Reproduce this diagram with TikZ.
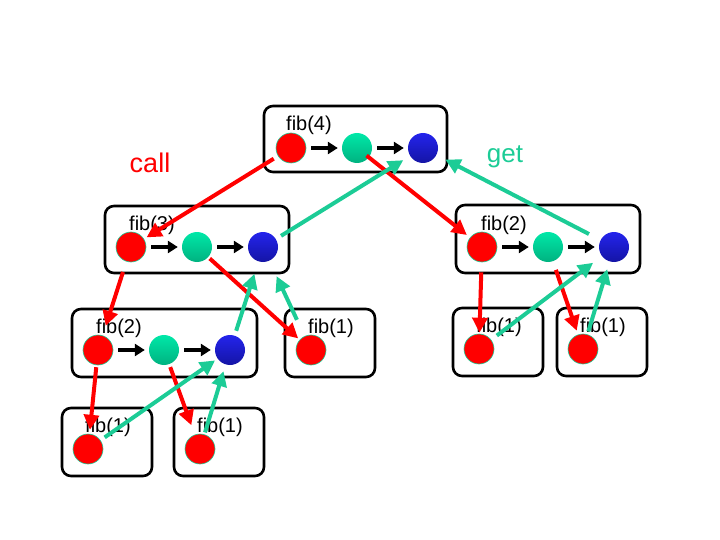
\documentclass[tikz,border=0pt]{standalone}
\usepackage{fontspec}
\setmainfont{Liberation Sans}
\usetikzlibrary{calc,arrows.meta,positioning}
\definecolor{callcol}{RGB}{255,0,0}
\definecolor{getcol}{RGB}{28,204,150}
\tikzset{fibbox/.style={draw=black,line width=2.6pt,rounded corners=9pt}}

\begin{document}
\begin{tikzpicture}[x=1pt,y=-1pt,node distance=66pt,font=\fontsize{20}{22}\selectfont]

\tikzset{redball/.style={shape=circle,minimum size=30pt,inner sep=0pt,fill=callcol,draw=getcol,line width=0.6pt},
greenball/.style={shape=circle,minimum size=30pt,inner sep=0pt,top color={rgb,255:red,0;green,232;blue,168},bottom color={rgb,255:red,0;green,178;blue,128}},
blueball/.style={shape=circle,minimum size=30pt,inner sep=0pt,top color={rgb,255:red,36;green,36;blue,236},bottom color={rgb,255:red,20;green,20;blue,165}},
fiblabel/.style={anchor=base west,inner sep=0pt},
steparrow/.style={line width=3.8pt,-{Triangle[length=10pt,width=12pt]},shorten <=5pt,shorten >=4pt},
callarrow/.style={callcol,line width=4pt,-{Triangle[length=15pt,width=15pt]}},
getarrow/.style={getcol,line width=4pt,-{Triangle[length=15pt,width=15pt]}}}

\useasboundingbox (0,0) rectangle (720,540);

% fib(4)
\node[redball] (r4) at (291,148) {};
\node[greenball,right of=r4] (g4) {};
\node[blueball,right of=g4] (b4) {};
\draw[fibbox] ($(r4)+(-27,-42)$) rectangle ($(b4)+(24,24)$);
\node[fiblabel] (l4) at ($(r4)+(-5,-17)$) {fib(4)};

% fib(3)
\node[redball] (r3) at (131,247) {};
\node[greenball,right of=r3] (g3) {};
\node[blueball,right of=g3] (b3) {};
\draw[fibbox] ($(r3)+(-26,-41)$) rectangle ($(b3)+(26,26)$);
\node[fiblabel] (l3) at ($(r3)+(-2,-17)$) {fib(3)};

% fib(2), left and right
\node[redball] (r2a) at (98,350) {};
\node[greenball,right of=r2a] (g2a) {};
\node[blueball,right of=g2a] (b2a) {};
\draw[fibbox] ($(r2a)+(-26,-41)$) rectangle ($(b2a)+(27,27)$);
\node[fiblabel] (l2a) at ($(r2a)+(-2,-17)$) {fib(2)};
\node[redball] (r2b) at (482,247) {};
\node[greenball,right of=r2b] (g2b) {};
\node[blueball,right of=g2b] (b2b) {};
\draw[fibbox] ($(r2b)+(-26,-42)$) rectangle ($(b2b)+(26,26)$);
\node[fiblabel] (l2b) at ($(r2b)+(-1,-17)$) {fib(2)};

% fib(1) leaves
\foreach \n/\x/\y in {a/311/350,b/88/449,c/200/449,d/479/349,e/583/349}{
  \draw[fibbox] ($(\x,\y)+(-26,-41)$) rectangle ($(\x,\y)+(64,27)$);
  \node[redball] (r1\n) at (\x,\y) {};
  \node[fiblabel] (l1\n) at ($(r1\n)+(-3,-17)$) {fib(1)};
}

% call / get
\node[anchor=base,callcol,font=\fontsize{27}{30}\selectfont] (call) at (150,173) {call};
\node[anchor=base,getcol,font=\fontsize{26}{30}\selectfont] (get) at (505,163) {get};

% steps inside a frame
\foreach \f in {4,3,2a,2b}{
  \draw[steparrow] (r\f) -- (g\f);
  \draw[steparrow] (g\f) -- (b\f);
}

% call edges
\draw[callarrow,shorten <=5pt,shorten >=3pt] (r4) -- (r3);
\draw[callarrow,shorten <=-3pt,shorten >=4pt] (g4) -- (r2b);
\draw[callarrow,shorten <=11pt,shorten >=10pt] (r3) -- (r2a);
\draw[callarrow,shorten <=2pt,shorten >=2pt] (g3) -- (r1a);
\draw[callarrow,shorten <=2pt,shorten >=4pt] (r2a) -- (r1b);
\draw[callarrow,shorten <=3pt,shorten >=10pt] (g2a) -- (r1c);
\draw[callarrow,shorten <=10pt,shorten >=1pt] (r2b) -- (r1d);
\draw[callarrow,shorten <=9pt,shorten >=4pt] (g2b) -- (r1e);

% get edges
\draw[getarrow,shorten <=6pt,shorten >=8pt] (b3) -- (b4);
\draw[getarrow,shorten <=13pt,shorten >=10pt] (b2b) -- (b4);
\draw[getarrow,shorten <=5pt,shorten >=13pt] (b2a) -- (b3);
\draw[getarrow,shorten <=18pt,shorten >=17pt] (r1a) -- (b3);
\draw[getarrow,shorten <=5pt,shorten >=3pt] (r1b) -- (b2a);
\draw[getarrow,shorten <=2pt,shorten >=7pt] (r1c) -- (b2a);
\draw[getarrow,shorten <=7pt,shorten >=11pt] (r1d) -- (b2b);
\draw[getarrow,shorten <=3pt,shorten >=8pt] (r1e) -- (b2b);

\end{tikzpicture}
\end{document}
